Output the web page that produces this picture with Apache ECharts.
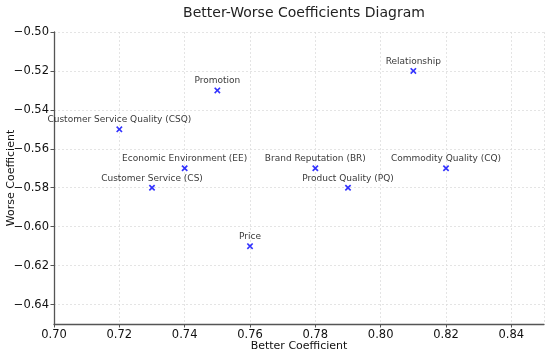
<!DOCTYPE html>
<html>
<head>
<meta charset="utf-8">
<script src="https://cdn.jsdelivr.net/npm/echarts@6/dist/echarts.min.js"></script>
<style>html,body{margin:0;padding:0;background:#fff}#c{width:550px;height:356px}</style>
</head>
<body>
<div id="c"></div>
<script>
const names = ["Promotion","Customer Service Quality (CSQ)","Economic Environment (EE)","Customer Service (CS)","Price","Brand Reputation (BR)","Product Quality (PQ)","Relationship","Commodity Quality (CQ)"];
const betterVals = [0.75, 0.72, 0.74, 0.73, 0.76, 0.78, 0.79, 0.81, 0.82];
const worseVals = [-0.53, -0.55, -0.57, -0.58, -0.61, -0.57, -0.58, -0.52, -0.57];
const xRange = [0.70, 0.85];
const yRange = [-0.65, -0.50];
const tickSplits = 7; // gives 0.02 steps

const font = "DejaVu Sans";
const fmt = v => (v < 0 ? "\u2212" : "") + Math.abs(v).toFixed(2);
const chart = echarts.init(document.getElementById('c'), null, {renderer:'canvas'});
const data = names.map((n,i)=>({name:n, value:[betterVals[i], worseVals[i]]}));
const xMark = "path://M0,1.8L1.8,0L5,3.2L8.2,0L10,1.8L6.8,5L10,8.2L8.2,10L5,6.8L1.8,10L0,8.2L3.2,5Z";
chart.setOption({
  animation:false,
  title:{text:"Better-Worse Coefficients Diagram", left:299, top:1, textAlign:'center',
    textStyle:{fontFamily:font, fontSize:14, fontWeight:'normal', color:'#222'}},
  grid:{left:54, right:6, top:32, bottom:32, containLabel:false, outerBoundsMode:'none'},
  xAxis:{type:'value', min:xRange[0], max:xRange[1], splitNumber:tickSplits,
    name:"Better Coefficient", nameLocation:'middle', nameGap:17, nameMoveOverlap:false,
    nameTextStyle:{fontFamily:font, fontSize:11, color:'#111'},
    axisLine:{show:true, lineStyle:{color:'#555', width:1.3}},
    axisTick:{show:true, length:3.5, lineStyle:{color:'#555'}},
    axisLabel:{fontFamily:font, fontSize:11.5, color:'#111', margin:5, showMaxLabel:false, formatter:v=>v.toFixed(2)},
    splitLine:{show:true, lineStyle:{color:'#ddd', type:[2,2], width:0.8}}},
  yAxis:{type:'value', min:yRange[0], max:yRange[1], splitNumber:tickSplits,
    name:"Worse Coefficient", nameLocation:'middle', nameGap:37, nameMoveOverlap:false,
    nameTextStyle:{fontFamily:font, fontSize:11, color:'#111'},
    axisLine:{show:true, lineStyle:{color:'#555', width:1.3}},
    axisTick:{show:true, length:3.5, lineStyle:{color:'#555'}},
    axisLabel:{fontFamily:font, fontSize:11.5, color:'#111', margin:5, showMinLabel:false, formatter:fmt},
    splitLine:{show:true, lineStyle:{color:'#ddd', type:[2,2], width:0.8}}},
  series:[{type:'scatter', data:data, symbol:xMark, symbolSize:6.5,
    itemStyle:{color:'#0000ff'},
    label:{show:true, position:'top', distance:1.5, formatter:p=>p.name,
      fontFamily:font, fontSize:9, color:'#000'}}]
});
</script>
</body>
</html>
